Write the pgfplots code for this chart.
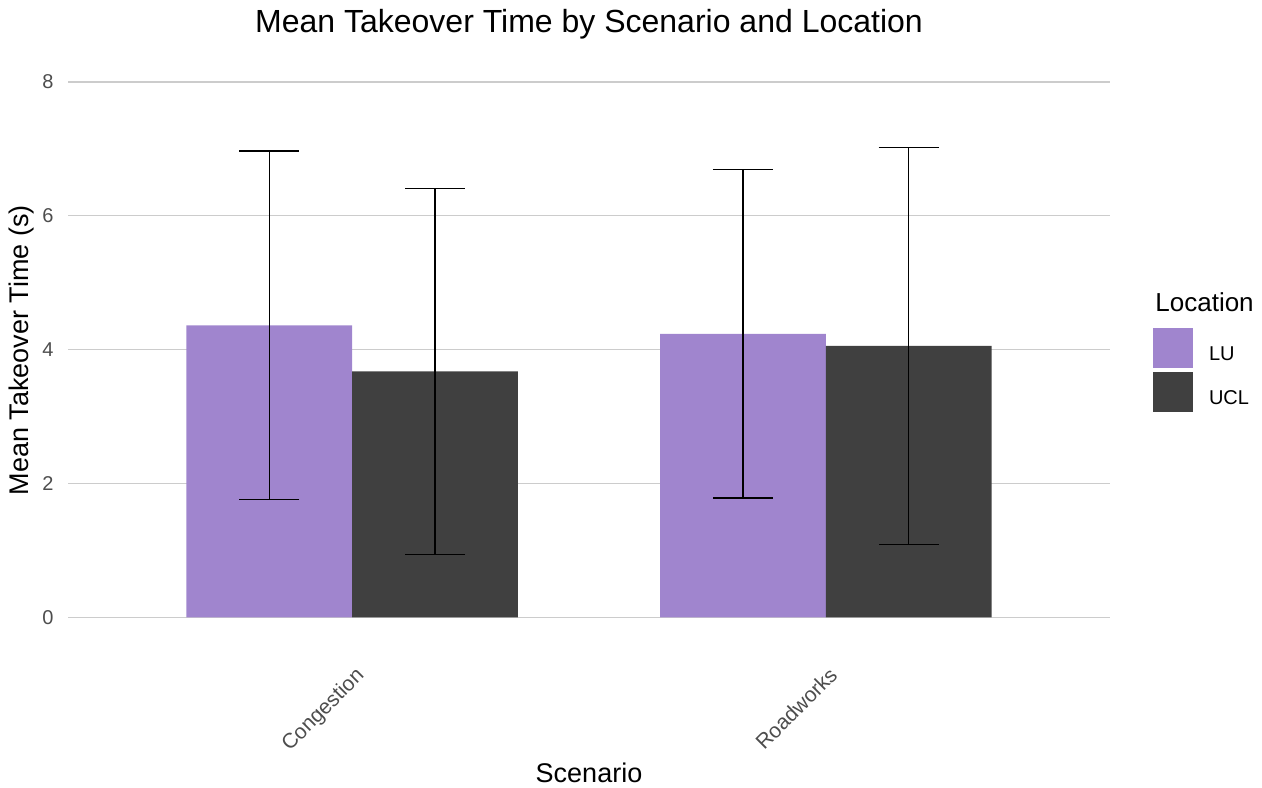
\documentclass[border=0pt]{standalone}
\usepackage{fontspec}
\setmainfont{Liberation Sans}
\usepackage{pgfplots}
\pgfplotsset{compat=1.18}
\definecolor{lupurple}{RGB}{160,133,206}
\definecolor{ucldark}{RGB}{64,64,64}
\definecolor{gridgray}{RGB}{204,204,204}
\definecolor{ticktext}{RGB}{77,77,77}
\begin{document}
\begin{tikzpicture}
\path[use as bounding box] (-34pt,-84.85pt) rectangle (597pt,308.65pt);
\begin{axis}[
  at={(0pt,0pt)}, anchor=south west,
  scale only axis, width=521pt, height=267.65pt,
  xmin=0.4, xmax=2.6, ymin=0, ymax=8,
  axis line style={draw=none},
  major tick length=0pt,
  tick style={draw=none},
  /pgf/number format/assume math mode=true,
  ytick={0,2,4,6,8},
  xtick={1,2}, xticklabels={Congestion,Roadworks},
  ymajorgrids, grid style={gridgray, line width=0.6pt},
  ticklabel style={font=\fontsize{10}{12}\selectfont, text=ticktext},
  yticklabel style={anchor=east, inner sep=0pt, xshift=-7pt},
  xticklabel style={xshift=1pt, yshift=-24pt, inner sep=0pt, anchor=north east, rotate=45, font=\fontsize{10.5}{12}\selectfont},
  ybar, bar width=0.35,
  legend style={at={(axis description cs:1.0413,0.5404)}, anchor=north west,
    draw=none, fill=none, inner sep=0pt, outer sep=0pt, row sep=2pt,
    font=\fontsize{10}{12}\selectfont, nodes={inner sep=0pt},
    /tikz/every odd column/.append style={column sep=8pt}},
  legend cell align=left,
  legend image code/.code={\fill[#1] (0pt,-6.5pt) rectangle (20pt,13.5pt);},
]
\addplot+[ybar, fill=lupurple, draw=none, bar shift=-0.175,
  error bars/.cd, y dir=both, y explicit,
  error bar style={black, line width=0.6pt},
  error mark options={black, mark size=15pt, line width=0.6pt, rotate=90}]
  table[x=x, y=y, y error=e] {
x y e
1 4.364 2.605
2 4.235 2.452
};
\addlegendentry{LU}
\addplot+[ybar, fill=ucldark, draw=none, bar shift=0.175,
  error bars/.cd, y dir=both, y explicit,
  error bar style={black, line width=0.6pt},
  error mark options={black, mark size=15pt, line width=0.6pt, rotate=90}]
  table[x=x, y=y, y error=e] {
x y e
1 3.675 2.734
2 4.055 2.964
};
\addlegendentry{UCL}
\end{axis}
\node[font=\fontsize{16}{19}\selectfont] at (260.5pt,296.6pt) {Mean Takeover Time by Scenario and Location};
\node[rotate=90, font=\fontsize{13.5}{16}\selectfont] at (-23pt,133.6pt) {Mean Takeover Time (s)};
\node[font=\fontsize{13.5}{16}\selectfont] at (260.5pt,-77.9pt) {Scenario};
\node[anchor=west, inner sep=0pt, font=\fontsize{13}{16}\selectfont] at (543.5pt,157.6pt) {Location};
\end{tikzpicture}
\end{document}
